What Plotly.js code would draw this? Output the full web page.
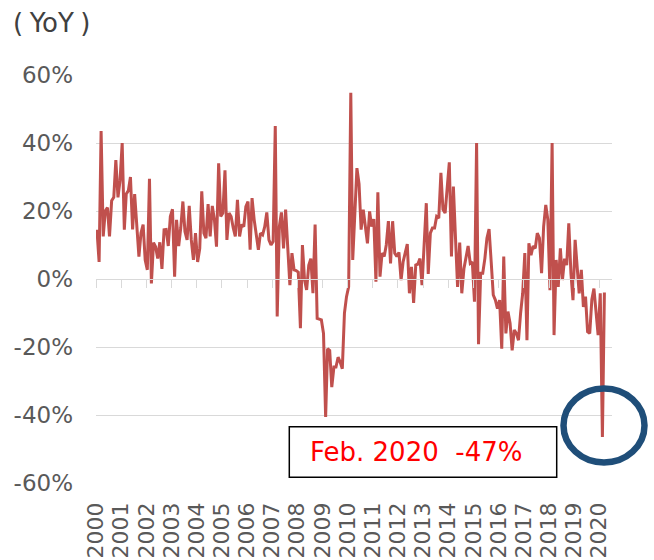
<!DOCTYPE html>
<html>
<head>
<meta charset="utf-8">
<script src="https://cdn.plot.ly/plotly-3.0.1.min.js"></script>
<style>html,body{margin:0;padding:0;background:#fff}#chart{width:654px;height:560px}</style>
</head>
<body>
<div id="chart"></div>
<script>
// Monthly YoY change (%), one array per year
const yoy2000 = [14.5, 5, 43.5, 12.5, 20, 21, 12.5, 23, 24, 35, 24, 29];
const yoy2001 = [40, 14.5, 25, 26, 30, 14.6, 25, 15, 6.6, 13.5, 16, 5.6];
const yoy2002 = [2.7, 29.5, -1.3, 10.7, 9.5, 6, 10.8, 3, 14.5, 14.6, 9.7, 18.4];
const yoy2003 = [20.5, 0.7, 17.4, 9.7, 15, 22.8, 14, 11.5, 21.5, 11.5, 5.6, 13.5];
const yoy2004 = [5, 9, 25.8, 13.5, 12, 22, 12.5, 21.5, 17.4, 9.5, 34, 18.4];
const yoy2005 = [19.4, 32, 11.5, 19.4, 18.4, 15, 12.5, 23.3, 12.5, 16, 15.4, 21.3];
const yoy2006 = [22.8, 8.6, 23.8, 17.4, 13, 8.6, 13.5, 13, 15.4, 19.6, 11.5, 10];
const yoy2007 = [11, 45, -11, 15.4, 19.6, 9, 20.4, 8, -1.8, 7.6, 2.7, 2.5];
const yoy2008 = [2, -14.5, 10, -0.3, -3.2, 4, 6, -4.2, 16, -11.6, -11.8, -12];
const yoy2009 = [-16, -40.6, -20.5, -21, -31.8, -25.9, -25.9, -23, -24.5, -26.4, -10, -5.2];
const yoy2010 = [-2.3, 54.8, 5.6, 22, 32.6, 28, 14.5, 20.4, 15, 10.5, 19.9, 15.4];
const yoy2011 = [17.6, -0.8, 25.5, 0.7, 7.6, 6.6, 10, 17, 4.6, 17, 7.6, 6.6];
const yoy2012 = [7.8, -0.3, 5, 8, 10.3, -4.2, 3.6, -7, 4.1, 4.4, 6, -1.8];
const yoy2013 = [10, 22.3, 1.5, 13.5, 15, 15, 18.4, 17.9, 31.2, 20.4, 19.4, 26];
const yoy2014 = [34.3, 6.6, 27.2, 12, -2.3, 10.7, -4.2, 3, 6.6, 9.7, 4.6, 5];
const yoy2015 = [-6.7, 40, -19.2, 1.7, 1.7, 6, 12, 14.7, 5, -4.7, -6.2, -8.7];
const yoy2016 = [-6.2, -20.5, 6.6, -16, -9.6, -13, -21, -15, -16, -18, -10, -4.2];
const yoy2017 = [7.6, -18, 10.5, 7, 9.7, 9, 13.5, 12, 1.7, 15.4, 21.8, 17.4];
const yoy2018 = [-3.3, 40, -16.5, 5.6, -2.3, 9, -0.3, 6, 4.1, 16.4, 1.7, -6.2];
const yoy2019 = [11.5, 3, -4.2, 2.7, -8.2, -5.2, -15.5, -16, -6, -2.8, -10, -16.5];
const yoy2020 = [-4.2, -46.5, -4];

const years = ['2000','2001','2002','2003','2004','2005','2006','2007','2008','2009','2010',
               '2011','2012','2013','2014','2015','2016','2017','2018','2019','2020'];
const yearSeries = [yoy2000, yoy2001, yoy2002, yoy2003, yoy2004, yoy2005, yoy2006, yoy2007,
                    yoy2008, yoy2009, yoy2010, yoy2011, yoy2012, yoy2013, yoy2014, yoy2015,
                    yoy2016, yoy2017, yoy2018, yoy2019, yoy2020];
const yTickVals = [-60, -40, -20, 0, 20, 40, 60];
const yTickText = ['-60%', '-40%', '-20%', '0%', '20%', '40%', '60%'];
const titleText = '(\u2005YoY\u2005)';
const noteText = 'Feb. 2020\u00A0 -47%';

// Build month categories (plotted mid-month) and values
const months = [], values = [];
yearSeries.forEach(function (arr, yi) {
  arr.forEach(function (v, mi) {
    const mm = String(mi + 1).padStart(2, '0');
    months.push(years[yi] + '-' + mm + '-15');
    values.push(v);
  });
});
const yearTicks = years.map(function (y) { return y + '-01-01'; });
const xRange = ['2000-01-01', '2020-07-03 07:00'];

const data = [
  {x: months, y: values, type: 'scatter', mode: 'lines',
   line: {color: '#C0504D', width: 3}, hoverinfo: 'skip', showlegend: false},
  {x: [yearTicks[0]], y: [null], type: 'scatter', mode: 'lines',
   xaxis: 'x2', yaxis: 'y', hoverinfo: 'skip', showlegend: false}
];

const W = 516, H = 408, L = 96, B = 483; // plot box in pixels
function px(x) { return (x - L) / W; }
function py(y) { return (B - y) / H; }

const layout = {
  width: 654, height: 560,
  margin: {l: 96, r: 42, t: 75, b: 77, pad: 0},
  paper_bgcolor: '#ffffff', plot_bgcolor: '#ffffff',
  showlegend: false,
  font: {family: 'DejaVu Sans, Verdana, sans-serif', color: '#595959'},
  xaxis: {
    type: 'date', range: xRange, tickvals: yearTicks, ticktext: years,
    tickangle: -90, ticks: '', showgrid: false, zeroline: false, showline: false,
    tickfont: {size: 22, color: '#595959'}, ticklabelstandoff: 14, fixedrange: true
  },
  xaxis2: {
    type: 'date', overlaying: 'x', anchor: 'free', position: 0.5, range: xRange,
    tickvals: yearTicks, showticklabels: false, ticks: 'outside', ticklen: 8,
    tickwidth: 1, tickcolor: '#d9d9d9', showline: true, linecolor: '#d9d9d9',
    linewidth: 1, showgrid: false, zeroline: false, fixedrange: true
  },
  yaxis: {
    range: [-60, 60], tickvals: yTickVals, ticktext: yTickText,
    showgrid: true, gridcolor: '#d9d9d9', gridwidth: 1, zeroline: false,
    showline: false, ticks: '', tickfont: {size: 23, color: '#595959'},
    ticklabelstandoff: 22, fixedrange: true
  },
  shapes: [
    {type: 'rect', xref: 'paper', yref: 'paper',
     x0: px(289.3), x1: px(556.7), y0: py(477.3), y1: py(426.7),
     line: {color: '#000000', width: 1.5}, fillcolor: '#ffffff', layer: 'above'},
    {type: 'circle', xref: 'paper', yref: 'paper',
     x0: px(563.5), x1: px(644.5), y0: py(462.5), y1: py(388.5),
     line: {color: '#1F4E79', width: 6.5}, fillcolor: 'rgba(0,0,0,0)', layer: 'above'}
  ],
  annotations: [
    {text: titleText, xref: 'paper', yref: 'paper', x: px(11), y: py(22.5),
     xanchor: 'left', yanchor: 'middle', showarrow: false,
     font: {size: 26, color: '#404040', family: 'DejaVu Sans, Verdana, sans-serif'}},
    {text: noteText, xref: 'paper', yref: 'paper', x: px(416), y: py(452),
     xanchor: 'center', yanchor: 'middle', showarrow: false,
     font: {size: 26, color: '#FF0000', family: 'DejaVu Sans, Verdana, sans-serif'}}
  ]
};

Plotly.newPlot('chart', data, layout, {displayModeBar: false, staticPlot: true});
</script>
</body>
</html>
